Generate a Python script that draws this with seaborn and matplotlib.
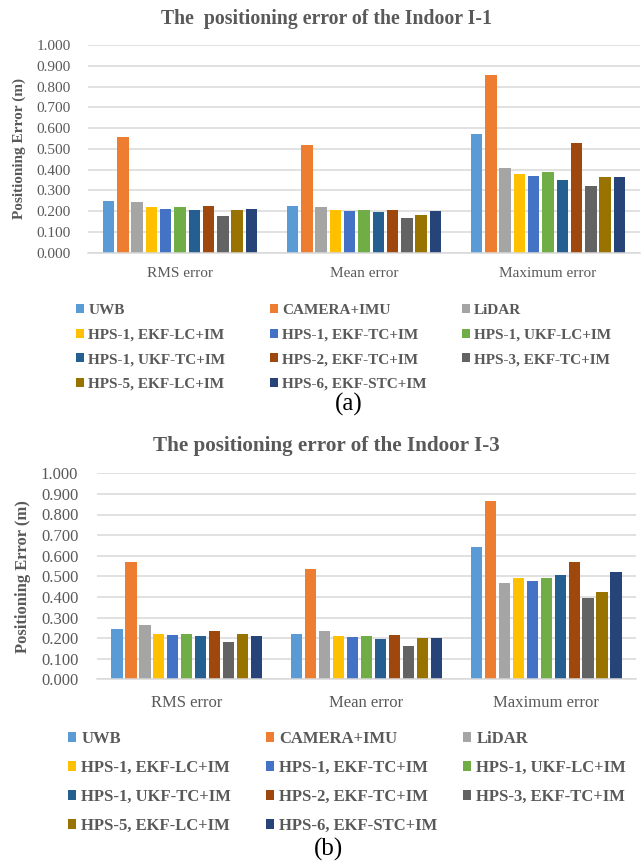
import matplotlib
matplotlib.use("Agg")
import matplotlib.pyplot as plt
import seaborn as sns
import pandas as pd
import numpy as np

# Positioning methods (series) and error metrics (categories)
methods = ["UWB", "CAMERA+IMU", "LiDAR",
           "HPS-1, EKF-LC+IM", "HPS-1, EKF-TC+IM", "HPS-1, UKF-LC+IM",
           "HPS-1, UKF-TC+IM", "HPS-2, EKF-TC+IM", "HPS-3, EKF-TC+IM",
           "HPS-5, EKF-LC+IM", "HPS-6, EKF-STC+IM"]
metrics = ["RMS error", "Mean error", "Maximum error"]

colors = ["#5B9BD5", "#ED7D31", "#A5A5A5", "#FFC000", "#4472C4", "#70AD47",
          "#255E91", "#9E480E", "#636363", "#997300", "#264478"]

# Indoor I-1 errors (m)
i1_rms = [0.250, 0.559, 0.242, 0.220, 0.212, 0.220, 0.205, 0.225, 0.178, 0.204, 0.209]
i1_mean = [0.223, 0.518, 0.220, 0.207, 0.202, 0.207, 0.194, 0.207, 0.165, 0.181, 0.199]
i1_max = [0.570, 0.856, 0.406, 0.377, 0.369, 0.387, 0.350, 0.526, 0.321, 0.363, 0.363]

# Indoor I-3 errors (m)
i3_rms = [0.244, 0.571, 0.262, 0.220, 0.216, 0.220, 0.208, 0.234, 0.179, 0.220, 0.211]
i3_mean = [0.220, 0.534, 0.236, 0.208, 0.205, 0.208, 0.195, 0.213, 0.164, 0.200, 0.202]
i3_max = [0.644, 0.867, 0.467, 0.492, 0.479, 0.493, 0.506, 0.568, 0.393, 0.425, 0.521]

yticks = [0.0, 0.1, 0.2, 0.3, 0.4, 0.5, 0.6, 0.7, 0.8, 0.9, 1.0]

sns.set_theme(style="white")
plt.rcParams["font.family"] = ["Liberation Serif", "DejaVu Serif"]

GRAY = "#595959"
GRID = "#D9D9D9"
W, H = 643, 865


def long_table(rms, mean, mx):
    rows = []
    for vals, m in zip((rms, mean, mx), metrics):
        for name, v in zip(methods, vals):
            rows.append({"metric": m, "method": name, "error": v})
    return pd.DataFrame(rows)


def draw_panel(fig, rect, df, title, title_y, fs, tick_pad, label_x,
               leg_xs, leg_top, leg_spacing, tag, tag_xy):
    l, t, r, b = rect
    ax = fig.add_axes([l / W, 1 - b / H, (r - l) / W, (b - t) / H])
    sns.barplot(data=df, x="metric", y="error", hue="method",
                order=metrics, hue_order=methods, palette=colors,
                saturation=1, width=0.855, gap=0.2, linewidth=0,
                ax=ax, legend=True)
    handles, labels = ax.get_legend_handles_labels()
    ax.get_legend().remove()

    ax.set_ylim(0, 1.0)
    ax.set_yticks(yticks)
    ax.set_yticklabels([f"{v:.3f}" for v in yticks])
    ax.set_xlim(-0.5, 2.5)
    ax.yaxis.grid(True, color=GRID, linewidth=1.1)
    ax.xaxis.grid(False)
    ax.set_axisbelow(True)
    for s in ("left", "top", "right"):
        ax.spines[s].set_visible(False)
    ax.spines["bottom"].set_color(GRID)
    ax.spines["bottom"].set_linewidth(1.1)
    ax.tick_params(axis="both", length=0, labelsize=fs, colors=GRAY)
    ax.tick_params(axis="y", pad=tick_pad)
    ax.tick_params(axis="x", pad=fs * 0.95)
    ax.set_xlabel("")
    ax.set_ylabel("Positioning Error (m)", fontsize=fs, fontweight="bold",
                  color=GRAY)
    ax.yaxis.set_label_coords(label_x, 0.5)

    fig.text(326 / W, 1 - title_y / H, title, ha="center", va="baseline",
             fontsize=fs + 3.2, fontweight="bold", color=GRAY)

    # three legend columns, filled row by row
    for c, x in enumerate(leg_xs):
        idx = list(range(c, len(methods), 3))
        leg = fig.legend([handles[i] for i in idx], [labels[i] for i in idx],
                         loc="upper left", bbox_to_anchor=(x / W, 1 - leg_top / H),
                         frameon=False, borderpad=0, borderaxespad=0,
                         handlelength=0.5, handleheight=0.5, handletextpad=0.3,
                         labelspacing=leg_spacing,
                         prop={"size": fs, "weight": "bold"})
        for txt in leg.get_texts():
            txt.set_color(GRAY)

    fig.text(tag_xy[0] / W, 1 - tag_xy[1] / H, tag, ha="center", va="center",
             fontsize=18, color="black")
    return ax


fig = plt.figure(figsize=(W / 100, H / 100), dpi=100)
fig.patch.set_facecolor("white")

draw_panel(fig, (88, 45, 640, 252.7), long_table(i1_rms, i1_mean, i1_max),
           "The  positioning error of the Indoor I-1", 24, 11.0, 12.5, -0.113,
           (76, 270, 462), 304, 0.76, "(a)", (349, 404))

draw_panel(fig, (97, 473.3, 636, 679.3), long_table(i3_rms, i3_mean, i3_max),
           "The positioning error of the Indoor I-3", 450.7, 12.0, 13.5, -0.122,
           (68, 266, 463), 731, 0.78, "(b)", (328, 849))

fig.savefig("out.png", dpi=100, facecolor="white")
